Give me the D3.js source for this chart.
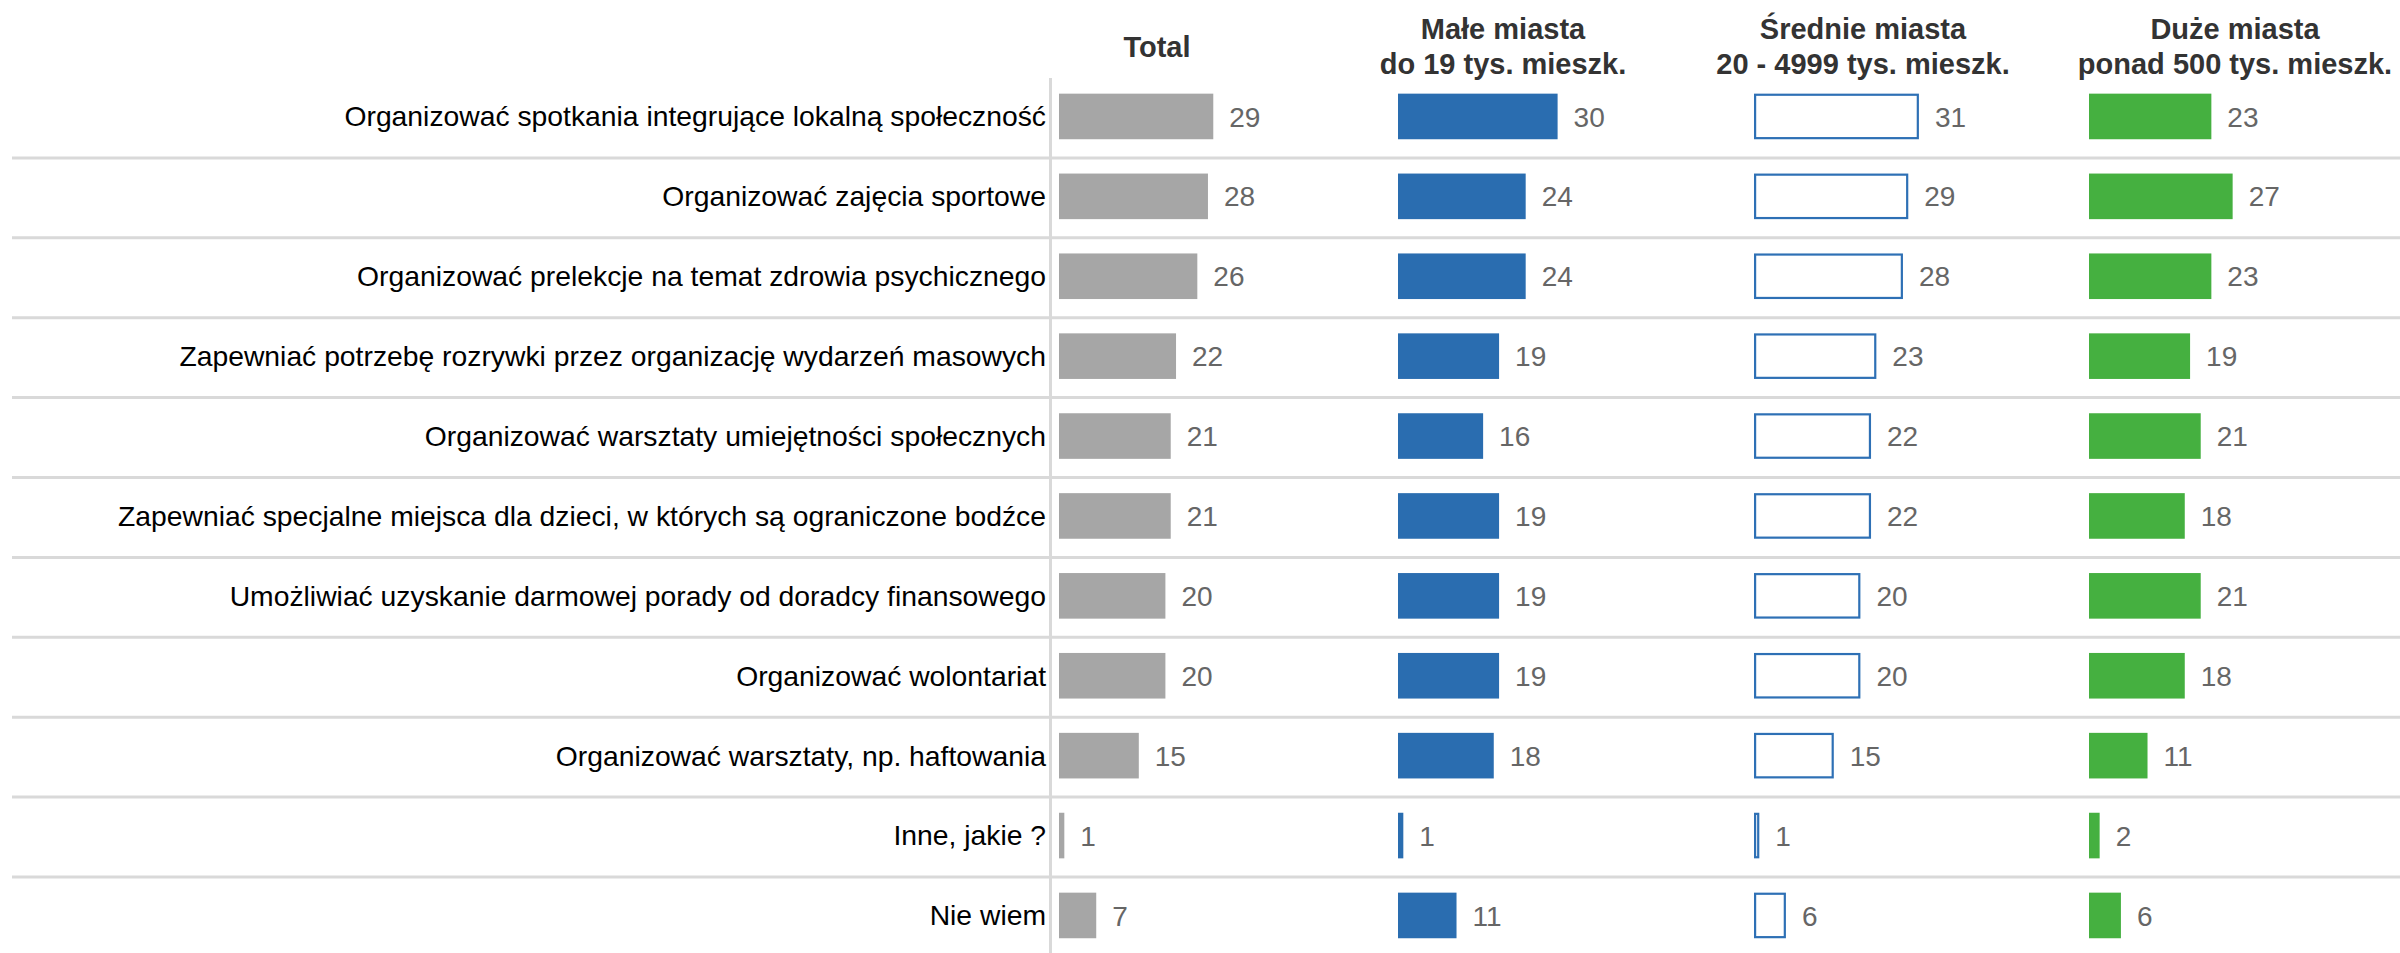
<!DOCTYPE html>
<html>
<head>
<meta charset="utf-8">
<script src="https://cdn.jsdelivr.net/npm/d3@7"></script>
<style>
  html, body { margin: 0; padding: 0; background: #fff; }
  svg { display: block; }
</style>
</head>
<body>
<svg id="chart" width="2400" height="953"></svg>
<script>
// Survey answers (rows) and the share (%) per respondent group (panels)
const categories = [
  "Organizować spotkania integrujące lokalną społeczność",
  "Organizować zajęcia sportowe",
  "Organizować prelekcje na temat zdrowia psychicznego",
  "Zapewniać potrzebę rozrywki przez organizację wydarzeń masowych",
  "Organizować warsztaty umiejętności społecznych",
  "Zapewniać specjalne miejsca dla dzieci, w których są ograniczone bodźce",
  "Umożliwiać uzyskanie darmowej porady od doradcy finansowego",
  "Organizować wolontariat",
  "Organizować warsztaty, np. haftowania",
  "Inne, jakie ?",
  "Nie wiem"
];

const totalValues  = [29, 28, 26, 22, 21, 21, 20, 20, 15, 1, 7];
const smallValues  = [30, 24, 24, 19, 16, 19, 19, 19, 18, 1, 11];
const mediumValues = [31, 29, 28, 23, 22, 22, 20, 20, 15, 1, 6];
const largeValues  = [23, 27, 23, 19, 21, 18, 21, 18, 11, 2, 6];

const panelTitles = [
  ["Total"],
  ["Małe miasta", "do 19 tys. mieszk."],
  ["Średnie miasta", "20 - 4999 tys. mieszk."],
  ["Duże miasta", "ponad 500 tys. mieszk."]
];

// Panel layout and styling
const panels = [
  { values: totalValues,  x0: 1059, titleX: 1157, fill: "#a6a6a6", stroke: null },
  { values: smallValues,  x0: 1398, titleX: 1503, fill: "#2a6db0", stroke: null },
  { values: mediumValues, x0: 1754, titleX: 1863, fill: "#ffffff", stroke: "#2e70b5" },
  { values: largeValues,  x0: 2089, titleX: 2235, fill: "#45b040", stroke: null }
];

const svg = d3.select("#chart");
const rowTop = 78, rowH = 79.9;
const y = d3.scaleBand()
  .domain(categories)
  .range([rowTop, rowTop + rowH * categories.length])
  .paddingInner(0).paddingOuter(0);

const barH = 45.6;
const barOff = (y.bandwidth() - barH) / 2 - 1.5;
const pxPerUnit = 5.32;

// Row separators
svg.append("g").selectAll("line")
  .data(categories.slice(0, -1))
  .join("line")
  .attr("x1", 12).attr("x2", 2400)
  .attr("y1", d => y(d) + y.bandwidth())
  .attr("y2", d => y(d) + y.bandwidth())
  .attr("stroke", "#d9d9d9").attr("stroke-width", 3);

// Vertical axis line next to the category labels
svg.append("line")
  .attr("x1", 1050.5).attr("x2", 1050.5)
  .attr("y1", rowTop).attr("y2", 953)
  .attr("stroke", "#d9d9d9").attr("stroke-width", 3);

// Category labels
svg.append("g").selectAll("text")
  .data(categories)
  .join("text")
  .attr("x", 1046)
  .attr("y", d => y(d) + barOff + barH / 2)
  .attr("dy", "0.35em")
  .attr("text-anchor", "end")
  .attr("font-family", "Liberation Sans, Arial, sans-serif")
  .attr("font-size", 28.3)
  .attr("fill", "#000")
  .text(d => d);

panels.forEach((p, i) => {
  const x = d3.scaleLinear().domain([0, 1]).range([p.x0, p.x0 + pxPerUnit]);
  const g = svg.append("g");

  // Panel header
  const title = g.append("text")
    .attr("text-anchor", "middle")
    .attr("font-family", "Liberation Sans, Arial, sans-serif")
    .attr("font-weight", "bold")
    .attr("font-size", 29)
    .attr("fill", "#333");
  const lines = panelTitles[i];
  const baselines = lines.length === 1 ? [57] : [39, 74];
  lines.forEach((t, k) => {
    title.append("tspan").attr("x", p.titleX).attr("y", baselines[k]).text(t);
  });

  const rows = categories.map((c, k) => ({ c, v: p.values[k] }));
  const sw = p.stroke ? 2.2 : 0;

  g.selectAll("rect")
    .data(rows)
    .join("rect")
    .attr("x", x(0) + sw / 2)
    .attr("y", d => y(d.c) + barOff + sw / 2)
    .attr("width", d => Math.max(0.5, x(d.v) - x(0) - sw))
    .attr("height", barH - sw)
    .attr("fill", p.fill)
    .attr("stroke", p.stroke || "none")
    .attr("stroke-width", sw);

  g.selectAll("text.val")
    .data(rows)
    .join("text")
    .attr("class", "val")
    .attr("x", d => x(d.v) + 16)
    .attr("y", d => y(d.c) + barOff + barH / 2)
    .attr("dy", "0.36em")
    .attr("font-family", "Liberation Sans, Arial, sans-serif")
    .attr("font-size", 28)
    .attr("fill", "#666")
    .text(d => d.v);
});
</script>
</body>
</html>
